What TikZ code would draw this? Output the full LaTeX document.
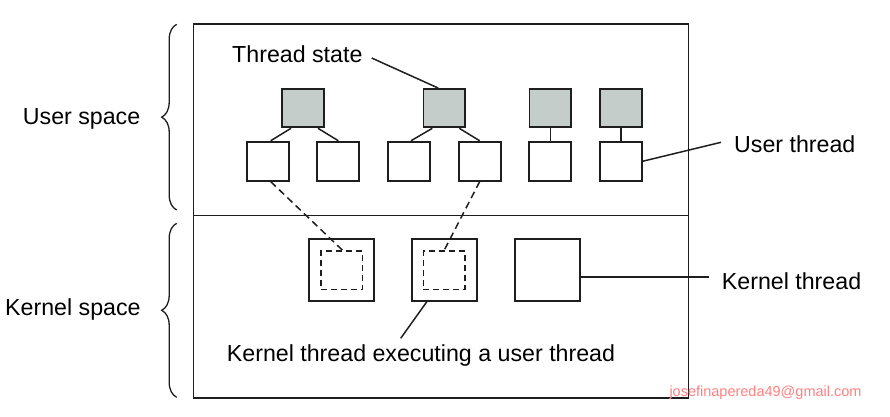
\documentclass[tikz,border=0pt]{standalone}
\usepackage{fontspec}
\setmainfont{Liberation Sans}
\usetikzlibrary{decorations.pathreplacing,calc}
\definecolor{stategray}{RGB}{197,205,203}
\definecolor{wmark}{RGB}{255,128,128}
\definecolor{ink}{RGB}{30,30,30}
\tikzset{
  lbl/.style={inner sep=0pt,anchor=base west,font=\fontsize{23.2}{28}\selectfont},
  gbox/.style={draw=ink,line width=1.9pt,fill=stategray,minimum width=41.7pt,minimum height=38.3pt,inner sep=0pt},
  wbox/.style={draw=ink,line width=1.9pt,fill=white,minimum width=42pt,minimum height=39pt,inner sep=0pt},
  kbox/.style={draw=ink,line width=1.8pt,fill=white,minimum width=65pt,minimum height=62pt,inner sep=0pt},
  ibox/.style={draw=ink,line width=1.6pt,dash pattern=on 6pt off 4pt,minimum width=41.6pt,minimum height=38.3pt,inner sep=0pt},
  lead/.style={draw=ink,line width=1.5pt},
  dlink/.style={draw=ink,line width=1.5pt,dash pattern=on 7pt off 4.5pt},
  bracestyle/.style={draw=ink,line width=1.3pt,decorate,decoration={brace,amplitude=15pt}}
}
\begin{document}
\begin{tikzpicture}[x=1pt,y=-1pt]
\useasboundingbox (0,0) rectangle (890,416);
% outer frame
\draw[ink,line width=1.7pt] (193.5,24.3) rectangle (688.5,397.7);
\draw[ink,line width=1.7pt] (193.5,215.5) -- (688.5,215.5);
% braces
\draw[bracestyle] (176.7,210) -- (176.7,24.3);
\draw[bracestyle] (176.7,397.3) -- (176.7,223.3);
% labels
\node[lbl] (us) at (22.7,124.3) {User space};
\node[lbl] (ks) at (5,315) {Kernel space};
\node[lbl] (ts) at (232,62) {Thread state};
\node[lbl] (ut) at (734,152.7) {User thread};
\node[lbl] (kt) at (721.7,289.3) {Kernel thread};
\node[lbl] (ke) at (226.7,361) {Kernel thread executing a user thread};
\node[inner sep=0pt,anchor=base west,font=\fontsize{14.5}{17}\selectfont,text=wmark] (wm) at (669.3,396) {josefinapereda49@gmail.com};
% thread state boxes
\node[gbox] (g1) at (303.0,108.2) {};
\node[gbox] (g2) at (444.3,108.2) {};
\node[gbox] (g3) at (550.3,108.2) {};
\node[gbox] (g4) at (620.95,108.2) {};
% user thread boxes
\node[wbox] (w1) at (267.7,161.2) {};
\node[wbox] (w2) at (338.35,161.2) {};
\node[wbox] (w3) at (409.0,161.2) {};
\node[wbox] (w4) at (479.65,161.2) {};
\node[wbox] (w5) at (550.3,161.2) {};
\node[wbox] (w6) at (620.95,161.2) {};
% kernel thread boxes
\node[kbox] (k1) at (341.5,270) {};
\node[kbox] (k2) at (444.2,270) {};
\node[kbox] (k3) at (547.2,270) {};
\node[ibox] (i1) at (341.5,270.2) {};
\node[ibox] (i2) at (444.2,270.2) {};
% tree connectors
\draw[lead] ([xshift=-12pt]g1.south) -- ([xshift=3pt]w1.north);
\draw[lead] ([xshift=15pt]g1.south) -- (w2.north);
\draw[lead] ([xshift=-12pt]g2.south) -- ([xshift=2pt]w3.north);
\draw[lead] ([xshift=15pt]g2.south) -- (w4.north);
\draw[lead] (g3.south) -- (w5.north);
\draw[lead] (g4.south) -- (w6.north);
% dashed mapping
\draw[dlink] ([xshift=3pt]w1.south) -- ([xshift=1pt]i1.north);
\draw[dlink] (w4.south) -- (i2.north);
% leaders
\draw[lead] ($(ts.base east)+(9,-4)$) -- ([xshift=-6pt]g2.north);
\draw[lead] (w6.east) -- ($(ut.base west)+(-13,-10.4)$);
\draw[lead] ([yshift=-7pt]k3.east) -- ($(kt.base west)+(-12.7,-12.3)$);
\draw[lead] ([xshift=-17.5pt]k2.south) -- ($(ke.base west)+(174,-22.7)$);
\end{tikzpicture}
\end{document}
